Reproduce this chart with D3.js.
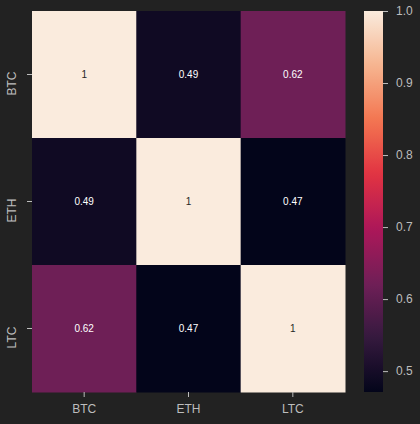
<!DOCTYPE html>
<html><head><meta charset="utf-8">
<script src="https://cdn.jsdelivr.net/npm/d3@7"></script>
<style>html,body{margin:0;padding:0;background:#222222;}svg{display:block;}</style>
</head><body>
<script>
const categories = ["BTC", "ETH", "LTC"];
const rowBTC = [1, 0.49, 0.62];
const rowETH = [0.49, 1, 0.47];
const rowLTC = [0.62, 0.47, 1];
const matrix = [rowBTC, rowETH, rowLTC];
const cbarTicks = [0.5, 0.6, 0.7, 0.8, 0.9, 1.0];
const rocketStops = ["#03051a", "#35193e", "#701f57", "#ad1759", "#e13342", "#f37651", "#f6b48f", "#faebdd"];
const rocketPos = [0, 1/7, 2/7, 3/7, 4/7, 5/7, 6/7, 1];

(function () {
const W = 420, H = 424;
const svg = d3.select("body").append("svg").attr("width", W).attr("height", H);
const textColor = "#bdbdbd";
const font = "'Liberation Sans', Arial, sans-serif";

const pLeft = 32, pRight = 345, pTop = 11, pBottom = 392;
const x = d3.scaleBand().domain(categories).range([pLeft, pRight]);
const y = d3.scaleBand().domain(categories).range([pTop, pBottom]);

const vals = matrix.flat();
const vmin = d3.min(vals) + 0.001, vmax = d3.max(vals);
const rocket = d3.scaleLinear().domain(rocketPos).range(rocketStops).interpolate(d3.interpolateRgb).clamp(true);
const color = v => rocket((v - vmin) / (vmax - vmin));

const cells = [];
matrix.forEach((row, i) => row.forEach((v, j) => cells.push({r: categories[i], c: categories[j], v})));

svg.selectAll("rect.cell").data(cells).enter().append("rect")
  .attr("x", d => x(d.c)).attr("y", d => y(d.r))
  .attr("width", x.bandwidth() + 0.5).attr("height", y.bandwidth() + 0.5)
  .attr("fill", d => color(d.v));

svg.selectAll("text.ann").data(cells).enter().append("text")
  .attr("x", d => x(d.c) + x.bandwidth() / 2)
  .attr("y", d => y(d.r) + y.bandwidth() / 2)
  .attr("text-anchor", "middle").attr("dominant-baseline", "central")
  .attr("font-family", font).attr("font-size", 10)
  .attr("fill", d => ((d.v - vmin) / (vmax - vmin)) > 0.6 ? "#262626" : "#ffffff")
  .text(d => d3.format("")(d.v));

const xAxis = svg.append("g").attr("transform", `translate(0,${pBottom})`)
  .call(d3.axisBottom(x).tickSize(5).tickPadding(7));
xAxis.select(".domain").remove();
xAxis.selectAll("line").attr("stroke", textColor);
xAxis.selectAll("text").attr("fill", textColor).attr("font-size", 12).attr("font-family", font);

const yAxis = svg.append("g").attr("transform", `translate(${pLeft},0)`)
  .call(d3.axisLeft(y).tickSize(5).tickPadding(0));
yAxis.select(".domain").remove();
yAxis.selectAll("line").attr("stroke", textColor);
yAxis.selectAll("text").attr("fill", textColor).attr("font-size", 12).attr("font-family", font)
  .attr("text-anchor", "middle").attr("dy", null).attr("x", null)
  .attr("transform", "translate(-20,9) rotate(-90)").attr("dominant-baseline", "central");

const cbL = 364, cbR = 383;
const cy = d3.scaleLinear().domain([vmin, vmax]).range([pBottom, pTop]);
const defs = svg.append("defs");
const grad = defs.append("linearGradient").attr("id", "cbgrad").attr("x1", 0).attr("y1", 1).attr("x2", 0).attr("y2", 0);
d3.range(0, 1.0001, 0.02).forEach(t => grad.append("stop").attr("offset", t).attr("stop-color", rocket(t)));
svg.append("rect").attr("x", cbL).attr("y", pTop).attr("width", cbR - cbL).attr("height", pBottom - pTop).attr("fill", "url(#cbgrad)");
const cAxis = svg.append("g").attr("transform", `translate(${cbR},0)`)
  .call(d3.axisRight(cy).tickValues(cbarTicks).tickFormat(d3.format(".1f")).tickSize(5).tickPadding(8));
cAxis.select(".domain").remove();
cAxis.selectAll("line").attr("stroke", textColor);
cAxis.selectAll("text").attr("fill", textColor).attr("font-size", 12).attr("font-family", font);
})();
</script>
</body></html>
